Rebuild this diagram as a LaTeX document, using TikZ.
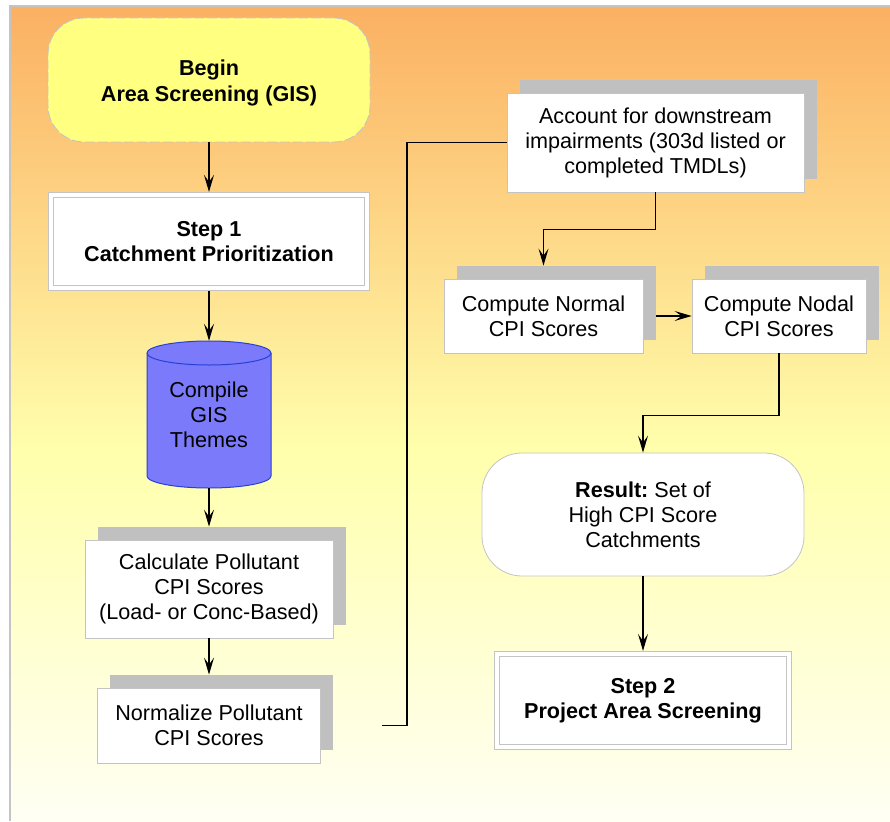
\documentclass[tikz,border=0pt]{standalone}
\usepackage{fontspec}
\setmainfont{Liberation Sans}
\usetikzlibrary{arrows.meta,shadows}
\frenchspacing

\definecolor{panelTop}{RGB}{251,176,98}
\definecolor{panelMid}{RGB}{255,255,172}
\definecolor{panelLow}{RGB}{255,255,244}
\definecolor{edgegray}{RGB}{196,196,196}
\definecolor{shadowgray}{RGB}{192,192,192}
\definecolor{beginyellow}{RGB}{255,255,128}
\definecolor{cylfill}{RGB}{122,122,250}
\definecolor{cyledge}{RGB}{40,64,216}

\newcommand\chartsize{\fontsize{21.6pt}{25pt}\selectfont}

\begin{document}
\begin{tikzpicture}[x=1pt,y=-1pt,
  every node/.style={font=\chartsize, align=center, inner sep=0pt},
  startbox/.style={rounded corners=36pt, fill=beginyellow, draw=edgegray,
    dash pattern=on 10pt off 3pt, line width=0.9pt,
    minimum width=322pt, minimum height=124pt, font=\chartsize\bfseries},
  stepbox/.style={fill=white, draw=edgegray, line width=0.8pt, double=white,
    double distance=4.6pt, outer sep=3.1pt,
    minimum width=316pt, minimum height=93pt, font=\chartsize\bfseries},
  taskbox/.style={fill=white, draw=edgegray, line width=0.8pt,
    drop shadow={shadow xshift=12.5pt, shadow yshift=13pt, fill=shadowgray, opacity=1}},
  resultbox/.style={rounded corners=40pt, fill=white, draw=edgegray, line width=0.8pt,
    minimum width=322pt, minimum height=123pt},
  arr/.style={draw=black, line width=1.1pt, -{Stealth[length=17pt,width=10pt,inset=7pt]}},
  wire/.style={draw=black, line width=1.1pt},
]
\useasboundingbox (0,0) rectangle (890,821);

% background panel
\fill[white] (0,0) rectangle (890,821);
\shade[top color=panelTop, bottom color=panelMid] (11,7) rectangle (890,450.5);
\shade[top color=panelMid, bottom color=panelLow] (11,450) rectangle (890,821);
\draw[edgegray, line width=1.6pt] (10,821) -- (10,6) -- (890,6);

% left column
\node[startbox] (begin) at (209,80) {\rule{0pt}{22pt}Begin\\[1pt]Area Screening (GIS)};
\node[stepbox] (step1) at (209,241.5) {Step 1\\Catchment Prioritization};

% GIS data store
\filldraw[fill=cylfill, draw=cyledge, line width=1pt]
  (147,353) -- (147,476) arc[start angle=180, end angle=360, x radius=62pt, y radius=12pt]
  -- (271,353) arc[start angle=0, end angle=180, x radius=62pt, y radius=12pt] -- cycle;
\draw[cyledge, line width=1pt]
  (147,353) arc[start angle=180, end angle=360, x radius=62pt, y radius=12pt];
\node[minimum width=124pt, minimum height=147pt] (cyl) at (209,414.5) {Compile\\GIS\\Themes};

\node[taskbox, minimum width=248pt, minimum height=98pt] (calc) at (209,589)
  {Calculate Pollutant\\CPI Scores\\(Load- or Conc-Based)};
\node[taskbox, minimum width=223pt, minimum height=75pt] (norm) at (209,725.5)
  {Normalize Pollutant\\CPI Scores};

% right column
\node[taskbox, minimum width=297pt, minimum height=99pt] (acct) at (655.5,142.5)
  {Account for downstream\\impairments (303d listed or\\completed TMDLs)};
\node[taskbox, minimum width=199pt, minimum height=74pt] (cnorm) at (543.5,316)
  {Compute Normal\\CPI Scores};
\node[taskbox, minimum width=174pt, minimum height=74pt] (cnodal) at (779,316)
  {Compute Nodal\\CPI Scores};
\node[resultbox] (res) at (643,514.5)
  {\textbf{Result:} Set of\\High CPI Score\\Catchments};
\node[stepbox, minimum width=292pt] (step2) at (643,700.5) {Step 2\\Project Area Screening};

% connectors
\draw[arr] (begin.south) -- (step1.north);
\draw[arr] (step1.south) -- (cyl.north);
\draw[arr] (cyl.south) -- ([yshift=13pt]calc.north);
\draw[arr] (calc.south) -- ([yshift=13pt]norm.north);

\coordinate (loopstart) at (382,725.5);
\coordinate (loopbend) at (407,725.5);
\draw[wire] (loopstart) -- (loopbend) |- (acct.west);

\draw[arr] (acct.south) -- ++(0,37) -| ([yshift=13pt]cnorm.north);
\draw[arr] ([xshift=12.5pt]cnorm.east) -- (cnodal.west);
\draw[arr] (cnodal.south) -- ++(0,62) -| (res.north);
\draw[arr] (res.south) -- (step2.north);
\end{tikzpicture}
\end{document}
